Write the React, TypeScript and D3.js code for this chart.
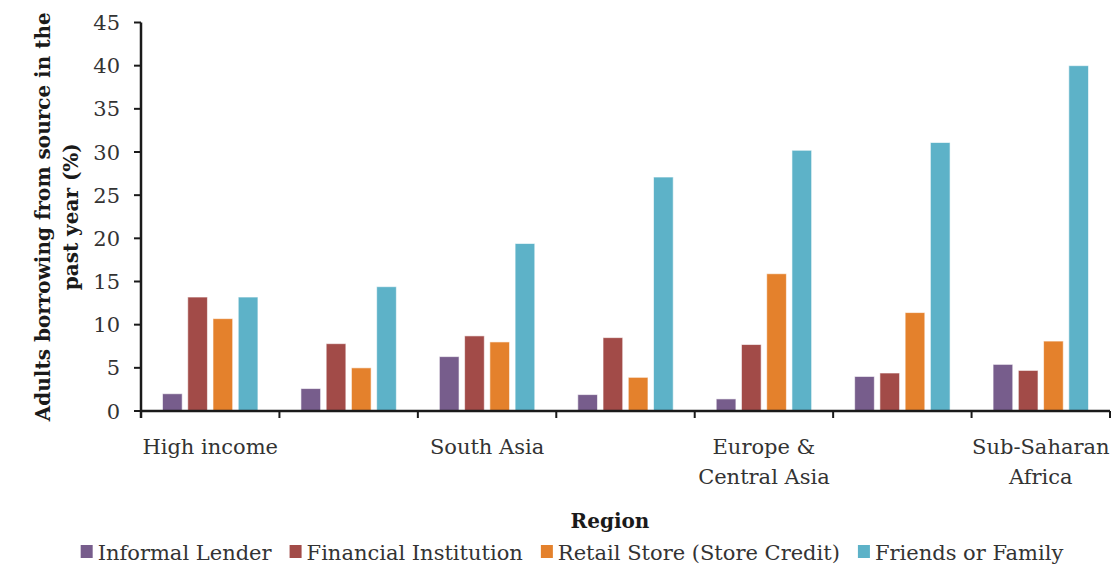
import React from "react";
import * as d3 from "d3";

const regions = [
  "High income",
  "Latin America & Caribbean",
  "South Asia",
  "East Asia & Pacific",
  "Europe & Central Asia",
  "Middle East & North Africa",
  "Sub-Saharan Africa",
];
const tickLabelLines: string[][] = [
  ["High income"],
  [],
  ["South Asia"],
  [],
  ["Europe &", "Central Asia"],
  [],
  ["Sub-Saharan", "Africa"],
];
const seriesNames = ["Informal Lender", "Financial Institution", "Retail Store (Store Credit)", "Friends or Family"];
const informalLender = [2.0, 2.6, 6.3, 1.9, 1.4, 4.0, 5.4];
const financialInstitution = [13.2, 7.8, 8.7, 8.5, 7.7, 4.4, 4.7];
const retailStore = [10.7, 5.0, 8.0, 3.9, 15.9, 11.4, 8.1];
const friendsFamily = [13.2, 14.4, 19.4, 27.1, 30.2, 31.1, 40.0];
const yTicks = [0, 5, 10, 15, 20, 25, 30, 35, 40, 45];
const colors = ["#775D8C", "#A24B48", "#E4812C", "#5DB2C8"];

const W = 1112;
const H = 566;
const FONT = "'DejaVu Serif', serif";

export default function App() {
  const series = [informalLender, financialInstitution, retailStore, friendsFamily];
  const left = 141;
  const right = 1110;
  const top = 22.5;
  const bottom = 411;
  const x = d3.scaleBand<string>().domain(regions).range([left, right]).padding(0);
  const bw = x.bandwidth();
  const xi = d3
    .scaleBand<string>()
    .domain(seriesNames)
    .range([21.5, bw - 21.5])
    .paddingInner(0.22)
    .paddingOuter(0);
  const y = d3.scaleLinear().domain([0, 45]).range([bottom, top]);

  // legend layout via text measurement
  const fs = 21;
  let widths: number[] = seriesNames.map((s) => s.length * 11);
  if (typeof document !== "undefined") {
    const ctx = document.createElement("canvas").getContext("2d");
    if (ctx) {
      ctx.font = `${fs}px 'DejaVu Serif'`;
      widths = seriesNames.map((s) => ctx.measureText(s).width);
    }
  }
  const sq = 13;
  const gapSqText = 4;
  const gapItems = 18;
  const total = widths.reduce((a, w) => a + sq + gapSqText + w, 0) + gapItems * (seriesNames.length - 1);
  const legendStart = 572 - total / 2;
  const legendX: number[] = [];
  let cx = legendStart;
  widths.forEach((w) => {
    legendX.push(cx);
    cx += sq + gapSqText + w + gapItems;
  });
  const legendBaseline = 560;

  const boundaries = [...regions.map((r) => x(r) as number), right];

  return (
    <div style={{ position: "absolute", left: 0, top: 0 }}>
      <svg width={W} height={H} style={{ display: "block", background: "#fff" }} fontFamily={FONT}>
        {/* bars */}
        {series.map((vals, si) =>
          vals.map((v, gi) => (
            <rect
              key={`b-${si}-${gi}`}
              x={(x(regions[gi]) as number) + (xi(seriesNames[si]) as number)}
              y={y(v)}
              width={xi.bandwidth()}
              height={bottom - y(v)}
              fill={colors[si]}
              stroke="#ffffff"
              strokeOpacity={0.6}
              strokeWidth={1}
            />
          ))
        )}
        {/* y axis */}
        <line x1={left} x2={left} y1={top} y2={bottom + 7} stroke="#1a1a1a" strokeWidth={2.5} />
        {yTicks.map((t) => (
          <g key={`yt-${t}`}>
            <line x1={left - 7} x2={left} y1={y(t)} y2={y(t)} stroke="#1a1a1a" strokeWidth={2} />
            <text x={120} y={y(t)} dy="0.36em" textAnchor="end" fontSize={21} fill="#333">
              {t}
            </text>
          </g>
        ))}
        {/* x axis */}
        <line x1={left} x2={right} y1={bottom} y2={bottom} stroke="#1a1a1a" strokeWidth={2.5} />
        {boundaries.map((bx, i) => (
          <line key={`xt-${i}`} x1={bx} x2={bx} y1={bottom} y2={bottom + 7} stroke="#1a1a1a" strokeWidth={2} />
        ))}
        {regions.map((r, i) =>
          tickLabelLines[i].map((ln, li) => (
            <text
              key={`xl-${i}-${li}`}
              x={(x(r) as number) + bw / 2}
              y={454 + li * 30}
              textAnchor="middle"
              fontSize={fs}
              fill="#333"
            >
              {ln}
            </text>
          ))
        )}
        {/* axis titles */}
        <text x={610} y={528} textAnchor="middle" fontSize={20} fontWeight="bold" fill="#1a1a1a">
          Region
        </text>
        <g transform={`translate(0, ${(top + bottom) / 2}) rotate(-90)`}>
          <text x={0} y={50} textAnchor="middle" fontSize={20} fontWeight="bold" fill="#1a1a1a">
            Adults borrowing from source in the
          </text>
          <text x={0} y={78} textAnchor="middle" fontSize={20} fontWeight="bold" fill="#1a1a1a">
            past year (%)
          </text>
        </g>
        {/* legend */}
        {seriesNames.map((s, i) => (
          <g key={`lg-${i}`}>
            <rect x={legendX[i]} y={legendBaseline - 15} width={sq - 1} height={sq} fill={colors[i]} />
            <text x={legendX[i] + sq + gapSqText} y={legendBaseline} fontSize={fs} fill="#333">
              {s}
            </text>
          </g>
        ))}
      </svg>
    </div>
  );
}
